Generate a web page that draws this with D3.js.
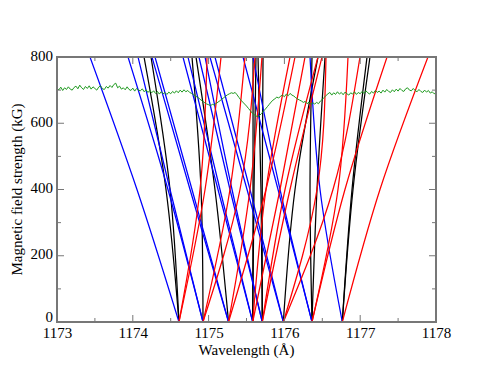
<!DOCTYPE html>
<html><head><meta charset="utf-8">
<script src="https://cdn.jsdelivr.net/npm/d3@7"></script>
<style>body{margin:0;background:#fff}svg{display:block}</style>
</head><body>
<svg id="c" width="491" height="379"></svg>
<script>
// field values at which each component's wavelength was read
const fieldSteps = [0, 400, 800];
// wavelength (Å) of each component at 0, 400, 800 kG
const blueLines = [
  [1174.609, 1174.055, 1173.435],
  [1174.926, 1174.491, 1174.069],
  [1174.926, 1174.464, 1173.937],
  [1175.263, 1174.781, 1174.293],
  [1175.263, 1174.755, 1174.253],
  [1175.582, 1175.150, 1174.728],
  [1175.582, 1175.124, 1174.662],
  [1175.708, 1175.309, 1174.953],
  [1175.708, 1175.282, 1174.873],
  [1175.986, 1175.546, 1175.084],
  [1175.986, 1175.507, 1175.018],
  [1176.364, 1175.942, 1175.586],
  [1176.364, 1175.916, 1175.454],
  [1176.764, 1176.470, 1176.338]
];
const redLines = [
  [1174.609, 1174.887, 1174.979],
  [1174.609, 1174.953, 1175.164],
  [1174.926, 1175.282, 1175.480],
  [1174.926, 1175.414, 1175.612],
  [1175.263, 1175.546, 1175.704],
  [1175.263, 1175.757, 1176.140],
  [1175.582, 1175.757, 1176.074],
  [1175.582, 1175.942, 1176.272],
  [1175.708, 1176.008, 1176.443],
  [1175.708, 1176.074, 1176.496],
  [1175.986, 1176.430, 1176.549],
  [1175.986, 1176.641, 1176.997],
  [1176.364, 1176.707, 1176.839],
  [1176.364, 1176.799, 1177.354],
  [1176.764, 1177.261, 1177.894]
];
const blackLines = [
  [1174.609, 1174.438, 1174.148],
  [1174.609, 1174.491, 1174.240],
  [1174.926, 1174.900, 1174.781],
  [1175.263, 1175.084, 1174.834],
  [1175.582, 1175.586, 1175.586],
  [1175.582, 1175.599, 1175.625],
  [1175.708, 1175.691, 1175.652],
  [1175.708, 1175.708, 1175.718],
  [1175.986, 1176.140, 1176.443],
  [1176.364, 1176.338, 1176.364],
  [1176.364, 1176.430, 1176.536],
  [1176.764, 1176.892, 1177.090],
  [1176.764, 1176.905, 1177.129]
];
// observed spectrum (green), plotted on the field scale
const specStart = 1173.0, specStep = 0.025;
const specValues = [
705,701,709,699,707,702,710,703,700,708,
712,704,715,707,702,711,705,713,703,710,
705,700,709,713,704,702,711,706,714,708,
717,721,707,712,703,707,701,710,702,699,
706,697,705,700,698,704,695,701,693,699,
692,698,690,696,688,695,689,693,687,694,
689,696,691,698,692,700,694,701,695,699,
693,690,686,682,679,675,670,666,662,658,
656,653,657,655,660,664,668,673,677,682,
686,689,692,690,693,686,678,670,664,658,
652,645,638,631,626,622,620,624,630,637,
643,650,657,664,670,674,679,676,682,685,
680,688,683,690,685,682,677,673,670,667,
663,666,659,664,657,662,658,663,659,667,
672,678,684,689,693,685,692,687,695,688,
693,686,694,689,685,692,688,695,687,693,
689,696,690,698,692,688,696,691,699,693,
697,691,700,694,702,696,693,701,695,703,
697,705,699,696,704,707,700,698,705,699,
695,702,696,693,700,694,699,691,695,689,
691];
const xTicks = [1173, 1174, 1175, 1176, 1177, 1178];
const yTicks = [0, 200, 400, 600, 800];

const svg = d3.select("#c");
const m = {l:57, t:57, r:436, b:322};
const x = d3.scaleLinear().domain([1173, 1178]).range([m.l, m.r]);
const y = d3.scaleLinear().domain([0, 800]).range([m.b, m.t]);

svg.append("defs").append("clipPath").attr("id","clip")
  .append("rect").attr("x",m.l).attr("y",m.t).attr("width",m.r-m.l).attr("height",m.b-m.t);

const g = svg.append("g").attr("clip-path","url(#clip)");
const line = d3.line().x(d=>x(d[1])).y(d=>y(d[0])).curve(d3.curveNatural);
function drawSet(set, color){
  set.forEach(comp=>{
    const pts = comp.map((w,i)=>[fieldSteps[i], w]);
    g.append("path").attr("d", line(pts)).attr("fill","none")
      .attr("stroke", color).attr("stroke-width", 1.25);
  });
}
drawSet(blackLines, "#000000");
drawSet(blueLines, "#0000ff");
drawSet(redLines, "#ff0000");

const spec = specValues.map((v,i)=>[v, specStart + i*specStep]);
g.append("path").attr("d", d3.line().x(d=>x(d[1])).y(d=>y(d[0]))(spec))
  .attr("fill","none").attr("stroke","#1f9a1f").attr("stroke-width",1);

// axes
const font = "'Liberation Serif', 'Times New Roman', serif";
const axB = d3.axisBottom(x).tickValues(xTicks).tickSize(0).tickPadding(5.5).tickFormat(d3.format("d"));
const axL = d3.axisLeft(y).tickValues(yTicks).tickSize(0).tickPadding(4);
const gx = svg.append("g").attr("transform",`translate(0,${m.b})`).call(axB);
const gy = svg.append("g").attr("transform",`translate(${m.l},0)`).call(axL);
[gx, gy].forEach(a=>{ a.select(".domain").remove(); a.attr("font-family",null); a.selectAll("text").style("font-family",font).style("font-size","15px").attr("fill","#000"); });
gy.selectAll("text").attr("dy", d => d === 0 ? "-0.05em" : "0.2em");

const tickG = svg.append("g").attr("stroke","#777").attr("stroke-width",1);
const xMinor = d3.range(1173, 1178.01, 0.5);
const yMinor = d3.range(0, 801, 100);
xMinor.forEach(v=>{
  const len = Math.abs(v - Math.round(v)) < 1e-6 ? 7 : 4;
  tickG.append("line").attr("x1",x(v)).attr("x2",x(v)).attr("y1",m.b).attr("y2",m.b-len);
  tickG.append("line").attr("x1",x(v)).attr("x2",x(v)).attr("y1",m.t).attr("y2",m.t+len);
});
yMinor.forEach(v=>{
  const len = v % 200 === 0 ? 7 : 4;
  tickG.append("line").attr("y1",y(v)).attr("y2",y(v)).attr("x1",m.l).attr("x2",m.l+len);
  tickG.append("line").attr("y1",y(v)).attr("y2",y(v)).attr("x1",m.r).attr("x2",m.r-len);
});
svg.append("rect").attr("x",m.l).attr("y",m.t).attr("width",m.r-m.l).attr("height",m.b-m.t)
  .attr("fill","none").attr("stroke","#777").attr("stroke-width",2);

svg.append("text").attr("x",(m.l+m.r)/2).attr("y",355).attr("text-anchor","middle")
  .style("font-family",font).style("font-size","15px").text("Wavelength (Å)");
svg.append("text").attr("transform",`translate(22,${(m.t+m.b)/2}) rotate(-90)`).attr("text-anchor","middle")
  .style("font-family",font).style("font-size","15px").text("Magnetic field strength (kG)");
</script>
</body></html>
